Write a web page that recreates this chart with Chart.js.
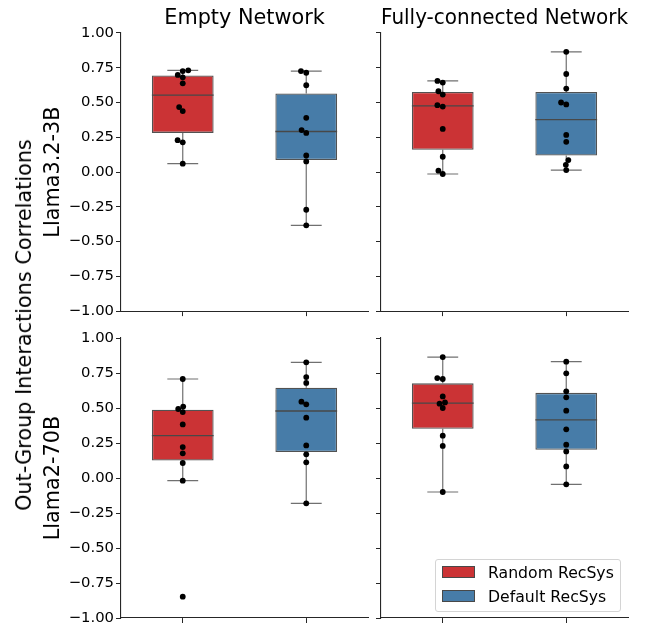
<!DOCTYPE html>
<html>
<head>
<meta charset="utf-8">
<script src="https://cdn.jsdelivr.net/npm/chart.js@4.4.1/dist/chart.umd.min.js"></script>
<style>
  body { margin: 0; background: #fff; font-family: "DejaVu Sans", sans-serif; }
  #wrap { position: relative; width: 652px; height: 629px; overflow: hidden; }
  #wrap canvas { position: absolute; }
  #ylab {
    position: absolute; left: 24px; top: 325px;
    transform: translate(-50%, -50%) rotate(-90deg);
    white-space: nowrap; font-size: 20.8px; color: #000;
  }
  #legend {
    position: absolute; left: 435px; top: 559px; width: 184px; height: 51px;
    border: 1px solid #d4d4d4; border-radius: 3px; background: rgba(255,255,255,0.85);
    font-size: 15.7px; color: #000;
  }
  #legend .item { position: absolute; left: 6px; height: 20px; line-height: 20px; white-space: nowrap; }
  #legend .patch { display: inline-block; width: 31px; height: 10px; border: 1px solid #484848; vertical-align: middle; margin-right: 13px; margin-top: -3px; }
</style>
</head>
<body>
<div id="wrap">
  <canvas id="c00" width="372" height="322" style="left:0;top:0"></canvas>
  <canvas id="c01" width="260" height="322" style="left:372px;top:0"></canvas>
  <canvas id="c10" width="372" height="307" style="left:0;top:322px"></canvas>
  <canvas id="c11" width="260" height="307" style="left:372px;top:322px"></canvas>
  <div id="ylab">Out-Group Interactions Correlations</div>
  <div id="legend"></div>
</div>
<script>
// categories / labels
const groups = ['Random RecSys', 'Default RecSys'];
const groupColors = ['#cb3335', '#477ca8'];
const networks = ['Empty Network', 'Fully-connected Network'];
const models = ['Llama3.2-3B', 'Llama2-70B'];
const yTicks = [-1, -0.75, -0.5, -0.25, 0, 0.25, 0.5, 0.75, 1];

// correlation values, one per run
const llama32EmptyRandom = [0.731, 0.726, 0.698, 0.681, 0.638, 0.467, 0.438, 0.229, 0.214, 0.060];
const llama32EmptyDefault = [0.726, 0.714, 0.624, 0.390, 0.302, 0.281, 0.119, 0.076, -0.271, -0.383];
const llama32FullRandom = [0.655, 0.643, 0.581, 0.557, 0.481, 0.471, 0.310, 0.110, 0.010, -0.014];
const llama32FullDefault = [0.864, 0.705, 0.600, 0.500, 0.486, 0.267, 0.217, 0.086, 0.052, 0.014];
const llama2EmptyRandom = [0.707, 0.510, 0.493, 0.471, 0.383, 0.221, 0.176, 0.107, -0.019, -0.848];
const llama2EmptyDefault = [0.826, 0.721, 0.679, 0.545, 0.526, 0.431, 0.233, 0.169, 0.112, -0.181];
const llama2FullRandom = [0.864, 0.714, 0.707, 0.583, 0.540, 0.531, 0.500, 0.302, 0.229, -0.100];
const llama2FullDefault = [0.831, 0.748, 0.619, 0.576, 0.481, 0.348, 0.238, 0.190, 0.083, -0.045];

const FONT = 'DejaVu Sans';
const BOX_HALF = 0.25;
const CAP_HALF = 0.125;
const SWARM_D = 5.3; // marker diameter in px used for the swarm

function quantile(sorted, p) {
    const pos = (sorted.length - 1) * p;
    const lo = Math.floor(pos), hi = Math.ceil(pos);
    return sorted[lo] + (sorted[hi] - sorted[lo]) * (pos - lo);
}

function boxStats(values) {
    const s = [...values].sort((a, b) => a - b);
    const q1 = quantile(s, 0.25), med = quantile(s, 0.5), q3 = quantile(s, 0.75);
    const iqr = q3 - q1;
    const lo = Math.min(...s.filter(v => v >= q1 - 1.5 * iqr));
    const hi = Math.max(...s.filter(v => v <= q3 + 1.5 * iqr));
    return { q1, med, q3, lo, hi };
}

function fmtTick(v) {
    return v < 0 ? '\u2212' + Math.abs(v).toFixed(2) : v.toFixed(2);
}

// beeswarm like seaborn: place each point (low to high) at the nearest free spot
function swarmPoints(chart) {
    const xs = chart.scales.x, ys = chart.scales.y;
    const unit = xs.getPixelForValue(1) - xs.getPixelForValue(0);
    chart.data.datasets.filter(ds => ds.swarmCenter !== undefined).forEach(ds => {
        const placed = [];
        const order = ds.data.map((p, k) => k).sort((a, b) => ds.data[a].y - ds.data[b].y);
        order.forEach(k => {
            const p = ds.data[k];
            const py = ys.getPixelForValue(p.y);
            const near = placed.filter(q => Math.abs(q.py - py) < SWARM_D);
            const cands = [0];
            near.forEach(q => {
                const dx = Math.sqrt(Math.max(SWARM_D * SWARM_D - (q.py - py) ** 2, 0)) * 1.05;
                cands.push(q.dx - dx, q.dx + dx);
            });
            const sorted = cands.map((c, j) => [c, j]).sort((a, b) => (Math.abs(a[0]) - Math.abs(b[0])) || (a[1] - b[1]));
            let dx = 0;
            for (const [c] of sorted) {
                if (near.every(q => Math.hypot(q.dx - c, q.py - py) >= SWARM_D * 0.999)) { dx = c; break; }
            }
            placed.push({ dx, py });
            p.x = ds.swarmCenter + dx / unit;
        });
    });
    chart.update('none');
}

function makePanel(id, series, row, col) {
    const stats = series.map(boxStats);

    const whiskers = [];
    const medians = [];
    stats.forEach((st, i) => {
        whiskers.push(
            {x: i, y: st.lo}, {x: i, y: st.q1}, {x: i, y: null},
            {x: i, y: st.q3}, {x: i, y: st.hi}, {x: i, y: null},
            {x: i - CAP_HALF, y: st.lo}, {x: i + CAP_HALF, y: st.lo}, {x: i, y: null},
            {x: i - CAP_HALF, y: st.hi}, {x: i + CAP_HALF, y: st.hi}, {x: i, y: null}
        );
        medians.push({x: i - BOX_HALF, y: st.med}, {x: i + BOX_HALF, y: st.med}, {x: i, y: null});
    });

    const datasets = [
        {
            type: 'bar',
            data: stats.map((st, i) => ({x: i, y: [st.q1, st.q3]})),
            backgroundColor: groupColors,
            borderColor: '#525252',
            borderWidth: 1.3,
            borderSkipped: false,
            barPercentage: 0.5,
            categoryPercentage: 1,
            order: 2
        },
        {
            type: 'line', data: whiskers, borderColor: '#707070', borderWidth: 1.2,
            pointRadius: 0, spanGaps: false, fill: false, order: 3
        },
        {
            type: 'line', data: medians, borderColor: '#484848', borderWidth: 1.3,
            pointRadius: 0, spanGaps: false, fill: false, order: 1
        }
    ];
    series.forEach((vals, i) => {
        datasets.push({
            type: 'scatter',
            data: vals.map(v => ({x: i, y: v})),
            swarmCenter: i,
            backgroundColor: '#000',
            borderWidth: 0,
            pointRadius: 2.9,
            order: 0
        });
    });

    const left = col === 0;
    const chart = new Chart(document.getElementById(id), {
        type: 'bar',
        data: { datasets: datasets },
        options: {
            responsive: false,
            animation: false,
            events: [],
            layout: { padding: { top: row === 0 ? 0 : 16, right: 3, left: 0, bottom: 0 } },
            plugins: {
                legend: { display: false },
                tooltip: { enabled: false },
                title: {
                    display: row === 0,
                    text: networks[col],
                    fullSize: false,
                    color: '#000',
                    font: { family: FONT, size: 20.8, weight: 'normal', lineHeight: 1.2 },
                    padding: { top: 6, bottom: 2 }
                }
            },
            scales: {
                x: {
                    type: 'linear',
                    min: -0.5, max: 1.5,
                    offset: false,
                    afterBuildTicks: (scale) => { scale.ticks = [{value: 0}, {value: 1}]; },
                    afterFit: (scale) => { scale.height = row === 0 ? 9 : 11; },
                    ticks: { callback: () => '', padding: 0 },
                    grid: { display: true, offset: false, drawOnChartArea: false, drawTicks: true, tickLength: 5, color: '#262626' },
                    border: { display: true, color: '#262626', width: 1.1 }
                },
                y: {
                    type: 'linear',
                    min: -1, max: 1,
                    afterBuildTicks: (scale) => { scale.ticks = yTicks.map(v => ({value: v})); },
                    afterFit: (scale) => { scale.width = left ? 121 : 9; },
                    ticks: {
                        callback: (v) => left ? fmtTick(v) : '',
                        color: '#000',
                        padding: 2,
                        font: { family: FONT, size: 14.8 }
                    },
                    grid: { display: true, offset: false, drawOnChartArea: false, drawTicks: true, tickLength: 5, color: '#262626' },
                    border: { display: true, color: '#262626', width: 1.1 },
                    title: {
                        display: left,
                        text: models[row],
                        color: '#000',
                        font: { family: FONT, size: 20.8, lineHeight: 1.2 },
                        padding: { top: 41, bottom: 0 }
                    }
                }
            }
        }
    });
    swarmPoints(chart);
    return chart;
}

makePanel('c00', [llama32EmptyRandom, llama32EmptyDefault], 0, 0);
makePanel('c01', [llama32FullRandom, llama32FullDefault], 0, 1);
makePanel('c10', [llama2EmptyRandom, llama2EmptyDefault], 1, 0);
makePanel('c11', [llama2FullRandom, llama2FullDefault], 1, 1);

// legend
const legend = document.getElementById('legend');
groups.forEach((g, i) => {
    const item = document.createElement('div');
    item.className = 'item';
    item.style.top = (3 + i * 23.5) + 'px';
    item.innerHTML = '<span class="patch" style="background:' + groupColors[i] + '"></span>' + g;
    legend.appendChild(item);
});
</script>
</body>
</html>
